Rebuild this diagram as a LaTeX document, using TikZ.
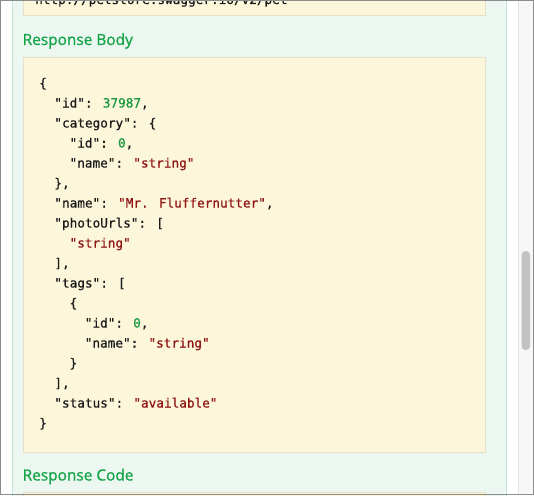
\documentclass[tikz,border=0pt]{standalone}
\usepackage{fontspec}
\setmainfont{Open Sans}
\newfontfamily\headfont{Open Sans}[FakeBold=0.9]
\newfontfamily\codefont{DejaVu Sans Mono}[FakeBold=0.6]

\definecolor{panelgreen}{HTML}{EBF7F0}
\definecolor{panelline}{HTML}{C3E8D1}
\definecolor{preyellow}{HTML}{FCF6DB}
\definecolor{preline}{HTML}{E5E0C6}
\definecolor{headgreen}{HTML}{14A447}
\definecolor{numgreen}{HTML}{16993D}
\definecolor{strred}{HTML}{8F1414}
\definecolor{codeblack}{HTML}{1A1A1A}
\definecolor{trackgray}{HTML}{F7F7F7}
\definecolor{thumbgray}{HTML}{C2C2C2}
\definecolor{framegray}{HTML}{8C8C8C}

\tikzset{
  code/.style={anchor=base west,inner sep=0pt,text=codeblack,font=\fontsize{12.7}{15}\codefont},
  heading/.style={anchor=base west,inner sep=0pt,text=headgreen,font=\fontsize{15.4}{18}\headfont},
}
\newcommand{\num}[1]{\textcolor{numgreen}{#1}}
\newcommand{\str}[1]{\textcolor{strred}{#1}}

\begin{document}
\begin{tikzpicture}[x=1pt,y=-1pt]
\useasboundingbox (0,0) rectangle (534,495);
\clip (0,0) rectangle (534,495);
\fill[white] (0,0) rectangle (534,495);

%--------------------------------------------------- panel
\draw[panelline,fill=panelgreen] (12.5,-2) rectangle (506.5,497);

\draw[preline,fill=preyellow] (23.5,-2) rectangle (485.5,15.5);
\node[code] (url) at (35,4) {http://petstore.swagger.io/v2/pet};

\node[heading] (bodyhead) at (22.5,45) {Response Body};

\draw[preline,fill=preyellow] (23.5,57.5) rectangle (485.5,452.5);

%--------------------------------------------------- json lines
\node[code] (l1)  at (39,87.5)   {\{};
\node[code] (l2)  at (54.2,107.5) {"id": \num{37987},};
\node[code] (l3)  at (54.2,127.5) {"category": \{};
\node[code] (l4)  at (69.4,147.5) {"id": \num{0},};
\node[code] (l5)  at (69.4,167.5) {"name": \str{"string"}};
\node[code] (l6)  at (54.2,187.5) {\},};
\node[code] (l7)  at (54.2,207.5) {"name": \str{"Mr. Fluffernutter"},};
\node[code] (l8)  at (54.2,227.5) {"photoUrls": [};
\node[code] (l9)  at (69.4,247.5) {\str{"string"}};
\node[code] (l10) at (54.2,267.5) {],};
\node[code] (l11) at (54.2,287.5) {"tags": [};
\node[code] (l12) at (69.4,307.5) {\{};
\node[code] (l13) at (84.6,327.5) {"id": \num{0},};
\node[code] (l14) at (84.6,347.5) {"name": \str{"string"}};
\node[code] (l15) at (69.4,367.5) {\}};
\node[code] (l16) at (54.2,387.5) {],};
\node[code] (l17) at (54.2,407.5) {"status": \str{"available"}};
\node[code] (l18) at (39,427.5)   {\}};

\node[heading] (codehead) at (22.5,480.5) {Response Code};

\draw[preline,fill=preyellow] (23.5,492.5) rectangle (485.5,500);

%--------------------------------------------------- scrollbar
\fill[trackgray] (518,0) rectangle (534,495);
\draw[black!10] (518.5,0) -- (518.5,495);
\fill[thumbgray,rounded corners=4pt] (521.5,251) rectangle (530,350);

%--------------------------------------------------- frame
\draw[framegray] (0.5,0.5) rectangle (533.5,494.5);

\end{tikzpicture}
\end{document}
